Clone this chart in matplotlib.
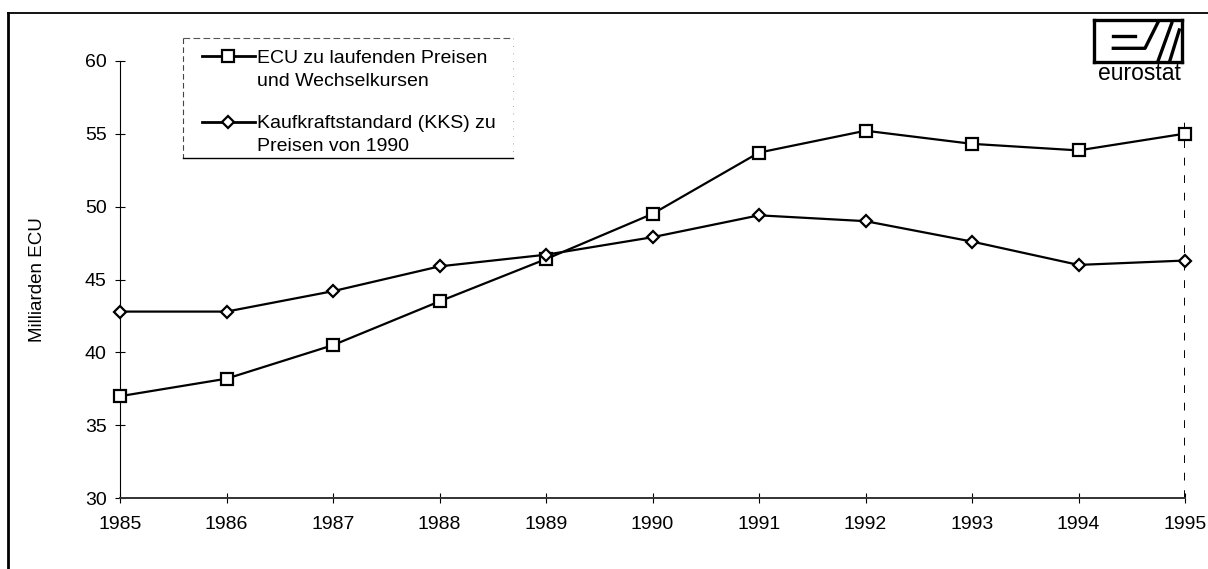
import numpy as np
import matplotlib
matplotlib.use("Agg")
from matplotlib import pyplot as plt
from matplotlib.lines import Line2D

# Data
years = [1985, 1986, 1987, 1988, 1989, 1990, 1991, 1992, 1993, 1994, 1995]
ecu_current = [37.0, 38.2, 40.5, 43.5, 46.4, 49.5, 53.7, 55.2, 54.3, 53.85, 55.0]
kks_1990 = [42.8, 42.8, 44.2, 45.9, 46.7, 47.9, 49.4, 49.0, 47.6, 46.0, 46.3]
label_ecu = 'ECU zu laufenden Preisen\nund Wechselkursen'
label_kks = 'Kaufkraftstandard (KKS) zu\nPreisen von 1990'
y_ticks = [30, 35, 40, 45, 50, 55, 60]

plt.rcParams['font.family'] = ['Liberation Sans', 'DejaVu Sans']

W, H = 1208, 569
fig = plt.figure(figsize=(W / 100, H / 100), dpi=100)


def fx(x):
    return x / W


def fy(y):
    return 1 - y / H


# Plotting
ax = fig.add_axes([fx(120), fy(498.3), fx(1065), (498.3 - 60.7) / H])

ax.plot(years, ecu_current, color='black', lw=1.6, marker='s', ms=8.5,
        mfc='white', mec='black', mew=1.6, clip_on=False, zorder=3, label=label_ecu)
ax.plot(years, kks_1990, color='black', lw=1.6, marker='D', ms=6,
        mfc='white', mec='black', mew=1.6, clip_on=False, zorder=3, label=label_kks)

# dashed line at the right end
ax.vlines(years[-1], 30, 56.1, colors='black', linestyles=(0, (4, 5)), lw=1.4, zorder=1)

ax.set_xlim(years[0], years[-1])
ax.set_ylim(y_ticks[0], y_ticks[-1])
ax.set_xticks(years)
ax.set_yticks(y_ticks)
ax.tick_params(direction='inout', length=7, width=0.8, labelsize=14, pad=6)
ax.tick_params(axis='x', pad=9)

for side in ['top', 'right']:
    ax.spines[side].set_visible(False)
ax.spines['left'].set_linewidth(0.8)
ax.spines['bottom'].set_linewidth(1.4)
ax.spines['bottom'].set_color('#333333')

ax.set_ylabel('Milliarden ECU', fontsize=13.5)
ax.yaxis.set_label_coords((46 - 120) / 1065, 0.5)

leg = ax.legend(loc='upper left', bbox_to_anchor=(fx(202), fy(50)),
                bbox_transform=fig.transFigure, frameon=False, fontsize=14,
                borderpad=0, borderaxespad=0, handlelength=2.7,
                handletextpad=0.12, labelspacing=1.3)
for t in leg.texts:
    t.set_linespacing(1.45)
for h in leg.legend_handles:
    h.set_ydata(np.asarray(h.get_ydata()) + 9.5)
    h.set_linewidth(2.0)

# legend frame
fig.add_artist(Line2D([fx(183), fx(513)], [fy(38), fy(38)], color='#555555', lw=0.8, ls=(0, (6, 3))))
fig.add_artist(Line2D([fx(183), fx(183)], [fy(38), fy(158)], color='#444444', lw=0.8, ls=(0, (5, 3))))
fig.add_artist(Line2D([fx(183), fx(513)], [fy(158), fy(158)], color='black', lw=1.0))
fig.add_artist(Line2D([fx(513), fx(513)], [fy(38), fy(158)], color='#888888', lw=0.6, ls=(0, (1, 8))))

# outer frame
fig.add_artist(Line2D([fx(8), fx(8)], [fy(13), fy(569)], color='black', lw=2.0))
fig.add_artist(Line2D([fx(8), fx(1208)], [fy(13), fy(13)], color='black', lw=1.3))

# eurostat logo
lg = fig.add_axes([fx(1094), fy(62), fx(88), 42 / H])
lg.set_xlim(0, 88)
lg.set_ylim(42, 0)
lg.set_xticks([])
lg.set_yticks([])
for s in lg.spines.values():
    s.set_linewidth(2.4)
lg.plot([19.3, 41], [15.7, 15.7], color='black', lw=2.4)
lg.plot([19.3, 51, 64.3], [28.3, 28.3, 1.7], color='black', lw=2.4)
lg.plot([64.3, 77.7], [40.3, 3.3], color='black', lw=2.4)
lg.plot([76, 85.3], [40.3, 10], color='black', lw=2.4)
fig.text(fx(1139), fy(74), 'eurostat', ha='center', va='center', fontsize=16.5)

fig.savefig('out.png', dpi=100)
